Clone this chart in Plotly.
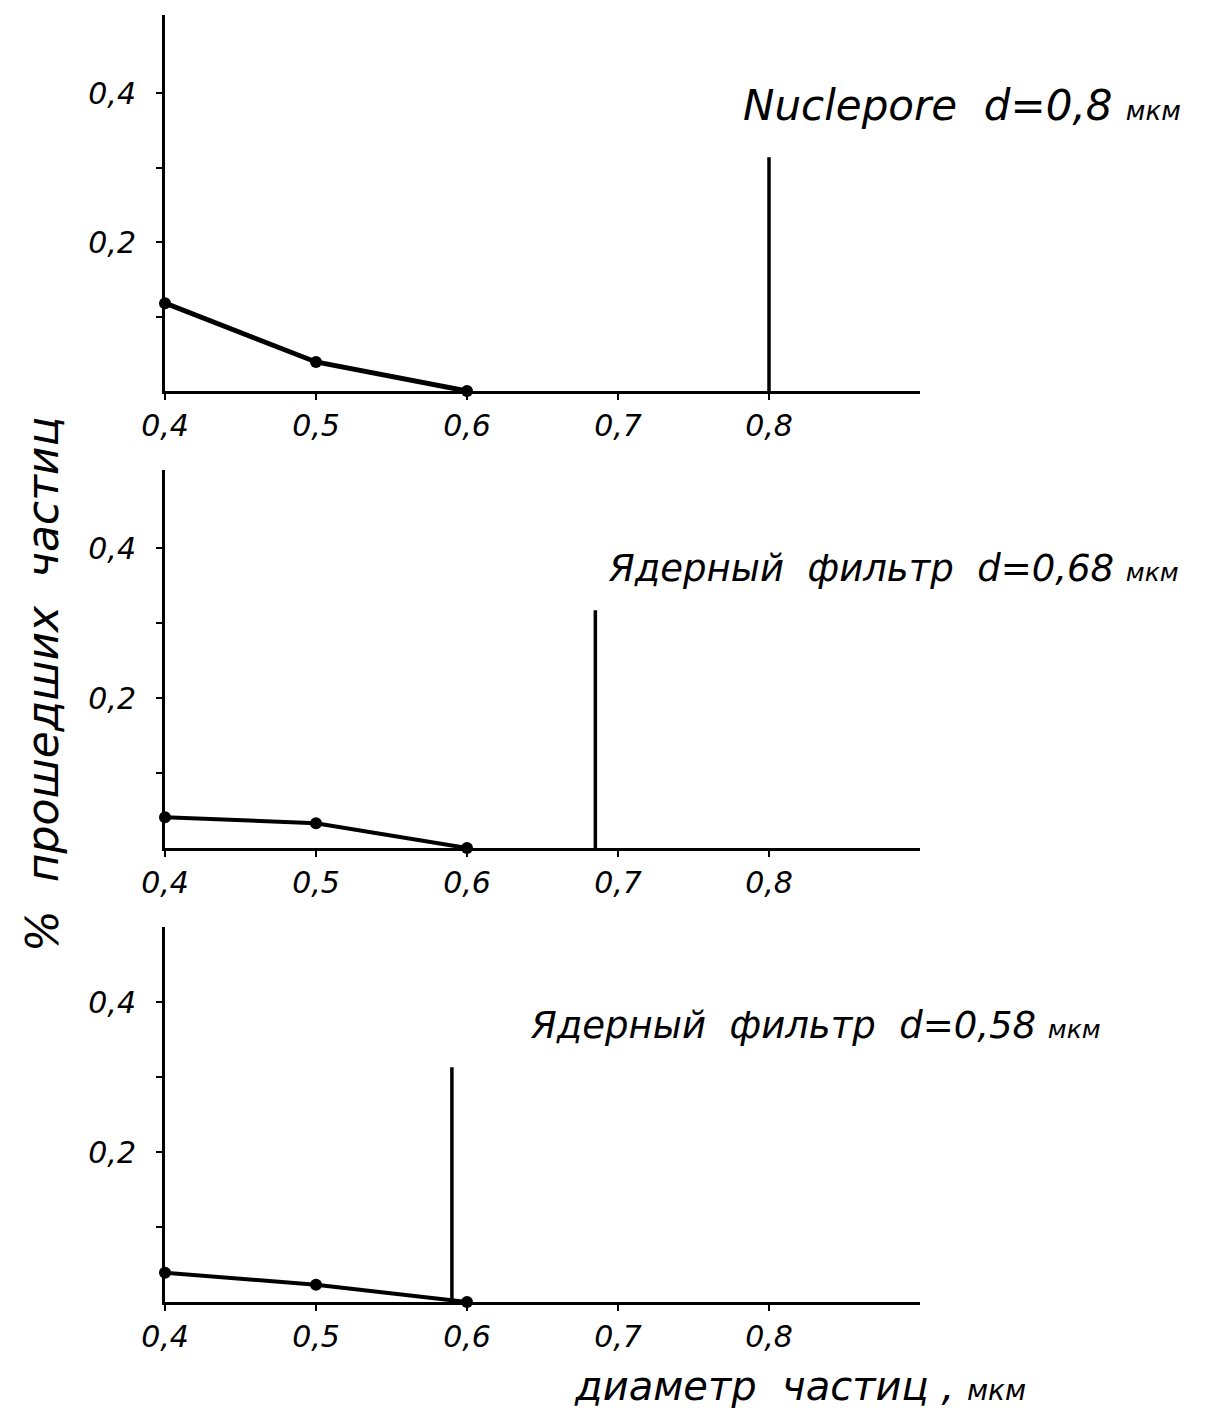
import plotly.graph_objects as go

# ---- data ----
diam = [0.4, 0.5, 0.6]
pass_nuclepore = [0.118, 0.039, 0.0]
pass_yf068 = [0.041, 0.033, 0.0]
pass_yf058 = [0.039, 0.023, 0.0]

pore_d = [0.8, 0.685, 0.59]
pore_h = [0.314, 0.317, 0.313]

panel_titles = [
    "Nuclepore  d=0,8 <span style='font-size:26px'>мкм</span>",
    "Ядерный  фильтр  d=0,68 <span style='font-size:25px'>мкм</span>",
    "Ядерный  фильтр  d=0,58 <span style='font-size:25px'>мкм</span>",
]
x_tick_vals = [0.4, 0.5, 0.6, 0.7, 0.8]
x_tick_text = ["0,4", "0,5", "0,6", "0,7", "0,8"]
y_tick_vals = [0.1, 0.2, 0.3, 0.4]
y_tick_text = ["", "0,2", "", "0,4"]

series = [pass_nuclepore, pass_yf068, pass_yf058]

# page body has 8px margin; figure sized to fit window
OFF = 8
W, H = 1196, 1400


def px(x):
    return (x - OFF) / W


def py(y):
    return 1 - (y - OFF) / H


# pixel geometry per panel (target screen px): (y0 pixel, top pixel, y max)
panels = [(391, 15, 0.505), (848, 470, 0.504), (1302, 927, 0.50)]
title_pos = [(962, 105), (893, 568), (815, 1025)]
title_size = [42, 37, 37]
line_w = [5, 4, 4]

FONT = "DejaVu Sans"
fig = go.Figure()
for i in range(3):
    ax = "" if i == 0 else str(i + 1)
    fig.add_trace(go.Scatter(
        x=diam, y=series[i], mode="lines+markers",
        line=dict(color="black", width=line_w[i]),
        marker=dict(color="black", size=12),
        cliponaxis=False, showlegend=False,
        xaxis="x" + ax, yaxis="y" + ax))
    fig.add_trace(go.Scatter(
        x=[pore_d[i], pore_d[i]], y=[0, pore_h[i]], mode="lines",
        line=dict(color="black", width=3.5),
        cliponaxis=False, showlegend=False,
        xaxis="x" + ax, yaxis="y" + ax))
    y0p, ytp, ymax = panels[i]
    common = dict(showline=True, linecolor="black", linewidth=3,
                  ticks="outside", tickcolor="black", tickwidth=2, ticklen=6,
                  showgrid=False, zeroline=False, automargin=False,
                  tickfont=dict(family=FONT, size=30, color="black", style="italic"))
    fig.update_layout(**{
        "xaxis" + ax: dict(domain=[px(165), px(920)], range=[0.4, 0.9],
                           anchor="y" + ax, tickvals=x_tick_vals, ticktext=x_tick_text,
                           **common),
        "yaxis" + ax: dict(domain=[py(y0p), py(ytp)], range=[0, ymax],
                           anchor="x" + ax, tickvals=y_tick_vals, ticktext=y_tick_text,
                           ticklabelstandoff=14, **common),
    })
    tx, ty = title_pos[i]
    fig.add_annotation(text=panel_titles[i], x=px(tx), y=py(ty),
                       xref="paper", yref="paper", showarrow=False,
                       xanchor="center", yanchor="middle",
                       font=dict(family=FONT, size=title_size[i], color="black", style="italic"))

fig.add_annotation(text="%  прошедших  частиц", x=px(42), y=py(685),
                   xref="paper", yref="paper", showarrow=False, textangle=-90,
                   xanchor="center", yanchor="middle",
                   font=dict(family=FONT, size=44, color="black", style="italic"))
fig.add_annotation(text="диаметр  частиц , <span style='font-size:28px'>мкм</span>",
                   x=px(800), y=py(1386),
                   xref="paper", yref="paper", showarrow=False,
                   xanchor="center", yanchor="middle",
                   font=dict(family=FONT, size=40, color="black", style="italic"))

fig.update_layout(width=W, height=H, margin=dict(l=0, r=0, t=0, b=0),
                  paper_bgcolor="white", plot_bgcolor="white")
fig.write_html("out.html")
